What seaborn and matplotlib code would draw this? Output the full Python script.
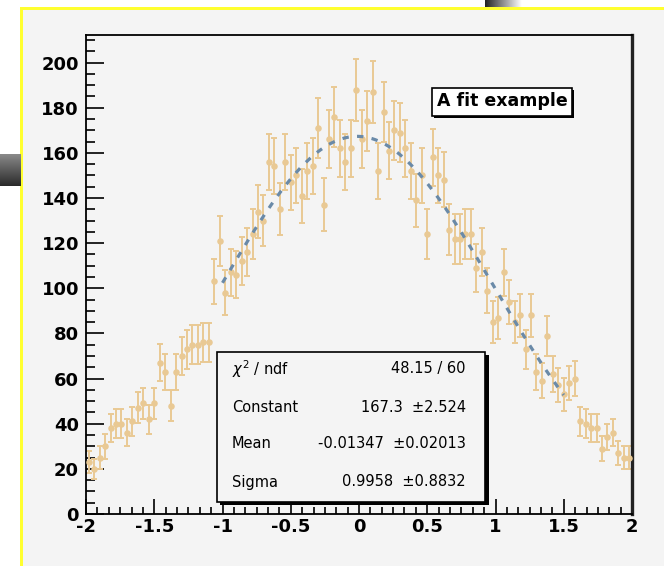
import numpy as np
import pandas as pd
import seaborn as sns
import matplotlib.pyplot as plt
from matplotlib.patches import Rectangle
from matplotlib.ticker import MultipleLocator, AutoMinorLocator

# histogram, 100 bins on [-2, 2]
x_min, x_max, n_bins = -2.0, 2.0, 100
counts = [23, 20, 25, 30, 38, 40, 40, 36, 41, 47,
          49, 42, 49, 67, 63, 48, 63, 70, 73, 75,
          75, 76, 76, 103, 121, 98, 107, 106, 112, 116,
          124, 134, 130, 156, 154, 135, 156, 147, 150, 141,
          152, 154, 171, 137, 166, 176, 162, 156, 162, 188,
          166, 174, 187, 152, 178, 161, 170, 169, 162, 152,
          139, 150, 124, 158, 150, 148, 126, 122, 122, 124,
          124, 109, 116, 99, 85, 87, 107, 94, 85, 88,
          73, 88, 63, 59, 79, 62, 57, 53, 58, 60,
          41, 40, 38, 38, 29, 34, 36, 27, 25, 25]

# gaussian fit result
fit_const, fit_mean, fit_sigma = 167.3, -0.01347, 0.9958
fit_range = (-1.0, 1.5)

stat_names = [r'$\chi^2$ / ndf', 'Constant', 'Mean', 'Sigma']
stat_values = ['48.15 / 60', '167.3  \u00b12.524', '-0.01347  \u00b10.02013', '0.9958  \u00b10.8832']
title_text = 'A fit example'

W, H = 664, 566
point_color = '#e9c994'
fit_color = '#6a8aa8'
pad_color = '#f4f4f4'


def px(x, y):
    # pixel (from top-left) -> figure fraction
    return x / W, 1 - y / H


def fig_rect(fig, x0, y0, x1, y1, **kw):
    fx0, fy1 = px(x0, y1)
    fig.patches.append(Rectangle((fx0, fy1), (x1 - x0) / W, (y1 - y0) / H,
                                 transform=fig.transFigure, figure=fig, **kw))


def gradient(fig, x0, y0, x1, y1, c0, c1, horizontal):
    fx0, fy1 = px(x0, y1)
    gax = fig.add_axes([fx0, fy1, (x1 - x0) / W, (y1 - y0) / H], zorder=-5)
    t = np.linspace(0, 1, 64)
    a, b = np.array(plt.matplotlib.colors.to_rgb(c0)), np.array(plt.matplotlib.colors.to_rgb(c1))
    cols = a[None, :] * (1 - t[:, None]) + b[None, :] * t[:, None]
    img = cols[None, :, :] if horizontal else cols[:, None, :]
    gax.imshow(img, aspect='auto', interpolation='bilinear')
    gax.axis('off')


sns.set_style('ticks')
plt.rcParams['font.family'] = ['DejaVu Sans']
plt.rcParams['text.color'] = 'black'

fig = plt.figure(figsize=(W / 100, H / 100), dpi=100, facecolor='white')

# pad with yellow border on top/left, plus screenshot leftovers around it
fig_rect(fig, 22, 8, W + 2, H + 2, facecolor=pad_color, edgecolor='none', zorder=-10)
fig_rect(fig, 20, 7, W + 2, 9.5, facecolor='#ffff30', edgecolor='none', zorder=-9)
fig_rect(fig, 20, 7, 23, H + 2, facecolor='#ffff30', edgecolor='none', zorder=-9)
gradient(fig, 0, 154, 21, 186, '#8a8a8a', '#2a2a2a', horizontal=False)
gradient(fig, 485, 0, 522, 7, '#222222', '#ffffff', horizontal=True)

ax = fig.add_axes([86 / W, (H - 514) / H, 546 / W, 479 / H])
ax.set_facecolor(pad_color)

edges = np.linspace(x_min, x_max, n_bins + 1)
df = pd.DataFrame({'x': (edges[:-1] + edges[1:]) / 2, 'y': counts})
df['err'] = np.sqrt(df['y'])

ax.errorbar(df['x'], df['y'], yerr=df['err'], fmt='none', ecolor=point_color,
            elinewidth=1.4, capsize=2.2, capthick=1.4, zorder=2)
sns.scatterplot(data=df, x='x', y='y', ax=ax, color=point_color, s=22,
                linewidth=0, zorder=3, legend=False)

xf = np.linspace(fit_range[0], fit_range[1], 200)
yf = fit_const * np.exp(-0.5 * ((xf - fit_mean) / fit_sigma) ** 2)
sns.lineplot(x=xf, y=yf, ax=ax, color=fit_color, lw=2.3, zorder=4,
             linestyle=(0, (2.0, 2.6)))

ax.set_xlim(x_min, x_max)
ax.set_ylim(0, 212.2)
ax.set_xlabel('')
ax.set_ylabel('')
ax.xaxis.set_major_locator(MultipleLocator(0.5))
ax.xaxis.set_minor_locator(AutoMinorLocator(6))
ax.yaxis.set_major_locator(MultipleLocator(20))
ax.yaxis.set_minor_locator(AutoMinorLocator(4))
ax.set_xticks([-2, -1.5, -1, -0.5, 0, 0.5, 1, 1.5, 2])
ax.set_xticklabels(['-2', '-1.5', '-1', '-0.5', '0', '0.5', '1', '1.5', '2'])
ax.tick_params(axis='y', which='major', direction='in', length=13, width=1.2, pad=5,
               labelsize=13, right=False, color='black', labelcolor='black')
ax.tick_params(axis='y', which='minor', direction='in', length=6.5, width=1.2,
               right=False, color='black')
ax.tick_params(axis='x', which='major', direction='in', length=11, width=1.2, pad=3,
               labelsize=13, top=False, color='black', labelcolor='black')
ax.tick_params(axis='x', which='minor', direction='in', length=5, width=1.2,
               top=False, color='black')
for lab in ax.get_xticklabels() + ax.get_yticklabels():
    lab.set_fontweight('bold')
for side in ['left', 'bottom', 'top']:
    ax.spines[side].set_linewidth(1.3)
    ax.spines[side].set_color('black')
ax.spines['right'].set_linewidth(2.4)
ax.spines['right'].set_color('#222222')

# title box
fig_rect(fig, 434, 90, 574, 118, facecolor='black', edgecolor='none', zorder=5)
fig_rect(fig, 432, 88, 572, 116, facecolor='white', edgecolor='black', lw=1.2, zorder=6)
tx, ty = px(502, 101)
fig.text(tx, ty, title_text, ha='center', va='center', fontsize=12.5,
         fontweight='bold', color='black', zorder=7)

# fit statistics box
fig_rect(fig, 220, 355, 489, 505, facecolor='black', edgecolor='none', zorder=5)
fig_rect(fig, 217, 352, 485, 502, facecolor=pad_color, edgecolor='black', lw=1.2, zorder=6)
row_y = [369, 407, 444, 482]
for name, val, yy in zip(stat_names, stat_values, row_y):
    lx, ly = px(232, yy)
    fig.text(lx, ly, name, ha='left', va='center', fontsize=10.5, color='black', zorder=7)
    rx, ry = px(466, yy)
    fig.text(rx, ry, val, ha='right', va='center', fontsize=10.5, color='black', zorder=7)

fig.savefig('out.png', dpi=100, facecolor=fig.get_facecolor())
